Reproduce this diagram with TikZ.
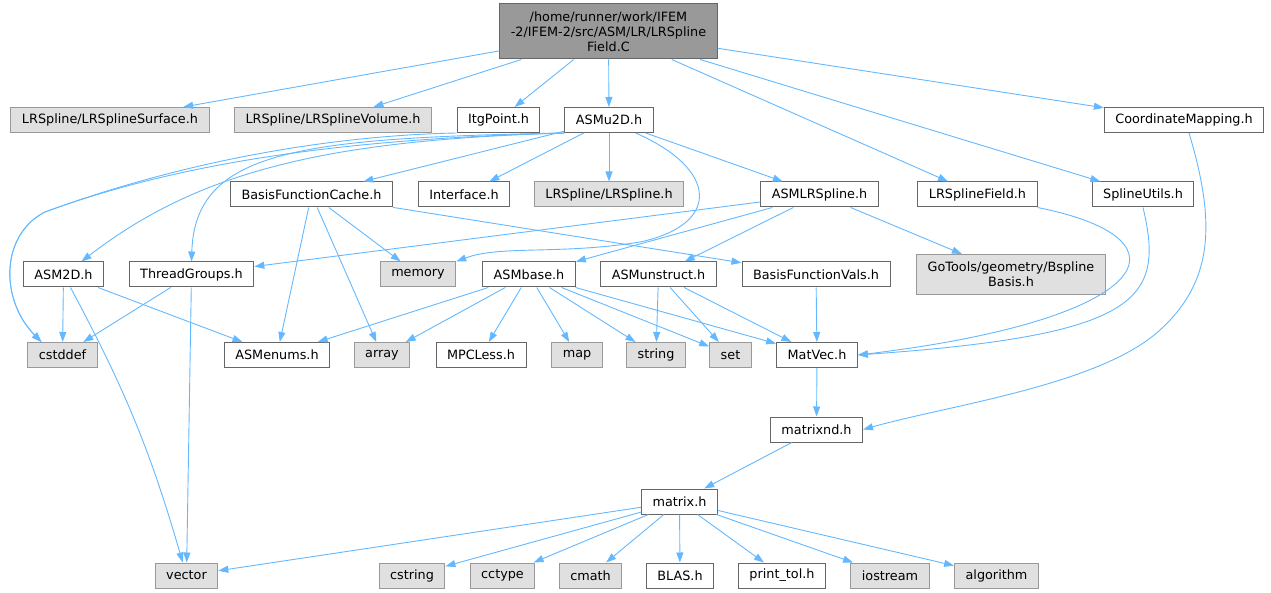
\documentclass[tikz,border=0pt]{standalone}
\usepackage{fontspec}
\setmainfont{DejaVu Sans}
\usepackage{tikz}
\usetikzlibrary{arrows.meta}
\usepackage{xcolor}
\definecolor{edgeblue}{HTML}{63B8FF}
\definecolor{sysgray}{HTML}{E0E0E0}
\definecolor{rootgray}{HTML}{999999}

\begin{document}
\begin{tikzpicture}
    [
        x=1pt, y=-1pt,
        box/.style={rectangle,draw=black!60,fill=white,line width=1pt,minimum height=25pt,inner xsep=11pt,inner ysep=0pt,font=\fontsize{12.8}{15}\selectfont},
        sysbox/.style={box,draw=black!40,fill=sysgray},
        dep/.style={draw=edgeblue,line width=0.9pt,-{Triangle[length=10pt,width=7pt]}},
    ]
\useasboundingbox (0,0) rectangle (1271,593);

\node[box, fill=rootgray, align=center, minimum height=55pt] (root) at (608.5,31.5) {/home/runner/work/IFEM\\-2/IFEM-2/src/ASM/LR/LRSpline\\Field.C};

% row 2
\node[sysbox] (surf) at (110,120) {LRSpline/LRSplineSurface.h};
\node[sysbox] (vol) at (333,120) {LRSpline/LRSplineVolume.h};
\node[box] (itg) at (498.5,120) {ItgPoint.h};
\node[box] (asmu2d) at (609,120) {ASMu2D.h};
\node[box] (coord) at (1184,120) {CoordinateMapping.h};

% row 3
\node[box] (bfc) at (311.5,194.5) {BasisFunctionCache.h};
\node[box] (iface) at (464,194.5) {Interface.h};
\node[sysbox] (lrs) at (609,194.5) {LRSpline/LRSpline.h};
\node[box] (asmlr) at (819.5,194.5) {ASMLRSpline.h};
\node[box] (lrsf) at (977.5,194.5) {LRSplineField.h};
\node[box] (sutil) at (1143,194.5) {SplineUtils.h};

% row 4
\node[box] (asm2d) at (63.5,274.5) {ASM2D.h};
\node[box] (tgroups) at (191.5,274.5) {ThreadGroups.h};
\node[sysbox] (memory) at (418,274.5) {memory};
\node[box] (asmbase) at (529,274.5) {ASMbase.h};
\node[box] (asmun) at (658.5,274.5) {ASMunstruct.h};
\node[box] (bfv) at (816,274.5) {BasisFunctionVals.h};
\node[sysbox, align=center, minimum height=40pt] (gotools) at (1011,274.5) {GoTools/geometry/Bspline\\Basis.h};

% row 5
\node[sysbox] (cstddef) at (62.5,355) {cstddef};
\node[box] (asmenums) at (277,355) {ASMenums.h};
\node[sysbox] (array) at (382,355) {array};
\node[box] (mpcless) at (481,355) {MPCLess.h};
\node[sysbox] (map) at (577,355) {map};
\node[sysbox] (string) at (656,355) {string};
\node[sysbox] (set) at (730.5,355) {set};
\node[box] (matvec) at (817,355) {MatVec.h};

\node[box] (matrixnd) at (816.5,429.5) {matrixnd.h};
\node[box] (matrix) at (679.5,501.5) {matrix.h};

% row 8
\node[sysbox] (vector) at (186.5,575.5) {vector};
\node[sysbox] (cstring) at (412,575.5) {cstring};
\node[sysbox] (cctype) at (502.5,575.5) {cctype};
\node[sysbox] (cmath) at (590.5,575.5) {cmath};
\node[box] (blas) at (680,575.5) {BLAS.h};
\node[box] (printtol) at (782,575.5) {print\_tol.h};
\node[sysbox] (iostream) at (890,575.5) {iostream};
\node[sysbox] (algorithm) at (996.5,575.5) {algorithm};

\foreach \a/\b in {root/surf, root/vol, root/itg, root/asmu2d, root/lrsf, root/sutil, root/coord,
    asmu2d/bfc, asmu2d/iface, asmu2d/lrs, asmu2d/asmlr,
    asmlr/tgroups, asmlr/asmbase, asmlr/asmun, asmlr/gotools,
    bfc/memory, bfc/asmenums, bfc/array, bfc/bfv,
    asm2d/cstddef, asm2d/asmenums, tgroups/cstddef, tgroups/vector,
    asmbase/asmenums, asmbase/array, asmbase/mpcless, asmbase/map, asmbase/string, asmbase/set, asmbase/matvec,
    asmun/string, asmun/set, asmun/matvec, bfv/matvec, matvec/matrixnd, matrixnd/matrix,
    matrix/vector, matrix/cstring, matrix/cctype, matrix/cmath, matrix/blas, matrix/printtol, matrix/iostream, matrix/algorithm}
    \draw[dep] (\a) -- (\b);

\draw[dep] (asm2d) to[bend left=6] (vector);

% long curved ones
\draw[dep] (itg.south west) .. controls (350,135) and (200,155) .. (45,212) .. controls (0,235) and (0,300) .. ([xshift=-21pt]cstddef.north);
\draw[dep] (asmu2d.south west) .. controls (380,138) and (200,155) .. (45,212) .. controls (0,235) and (0,300) .. ([xshift=-21pt]cstddef.north);
\draw[dep] (asmu2d.south west) .. controls (330,140) and (200,170) .. ([xshift=18pt]asm2d.north);
\draw[dep] (asmu2d.south west) .. controls (300,138) and (195,150) .. (tgroups.north);
\draw[dep] ([xshift=-18pt]asmu2d.south east) .. controls (720,170) and (720,225) .. (640,242) .. controls (560,255) and (500,245) .. (memory.north east);
\draw[dep] (lrsf.south east) .. controls (1200,240) and (1150,320) .. (matvec.east);
\draw[dep] (sutil.south) .. controls (1165,300) and (1140,335) .. (matvec.east);
\draw[dep] ([xshift=5pt]coord.south) .. controls (1215,220) and (1215,280) .. (1160,330) .. controls (1100,385) and (950,405) .. (matrixnd.east);
\end{tikzpicture}
\end{document}
